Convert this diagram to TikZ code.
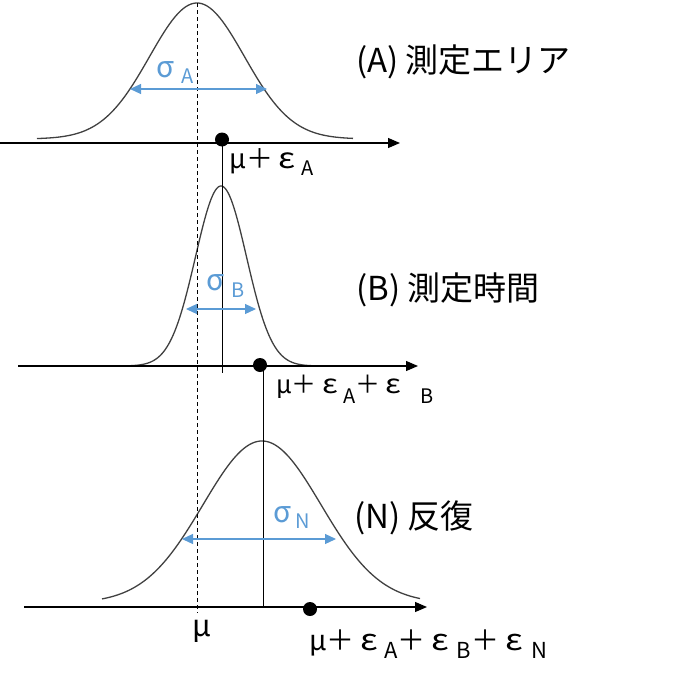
\documentclass[tikz,border=0pt]{standalone}
\usepackage{fontspec}
\setmainfont{Noto Sans CJK JP}
\usetikzlibrary{arrows.meta}
\definecolor{sigblue}{HTML}{5B9BD5}
\definecolor{curvegray}{HTML}{404040}
% raised/lowered subscript: #1 drop, #2 size, #3 text
\newcommand{\sbx}[3]{\raisebox{-#1pt}{\fontsize{#2}{#2}\selectfont #3}}
\newcommand{\feps}{\makebox[1.05em][c]{\scalebox{1.25}[1.05]{ε}}}
\newcommand{\fsig}{\makebox[0.9em][c]{\scalebox{1.05}{σ}}}
\newcommand{\fpl}{＋}
\begin{document}
\begin{tikzpicture}[x=1pt,y=-1pt,
  axis/.style={line width=1.2pt,-{Triangle[length=12pt,width=10pt]}},
  gcurve/.style={curvegray,line width=1.3pt},
  sig/.style={sigblue,line width=1.2pt,{Triangle[length=11pt,width=10pt]}-{Triangle[length=11pt,width=10pt]}},
  dotn/.style={circle,fill=black,inner sep=0pt,minimum size=14pt},
  title/.style={anchor=base west,inner sep=0pt,font=\fontsize{33}{33}\selectfont},
  lab/.style={anchor=base west,inner sep=0pt},
  siglab/.style={anchor=base west,inner sep=0pt,text=sigblue,font=\fontsize{28}{28}\selectfont},
  guide/.style={line width=1pt},
  meanline/.style={line width=1pt,dash pattern=on 4pt off 3pt}]
\useasboundingbox (0,0) rectangle (693,680);
% coordinates
\coordinate (axAs) at (0,143);   \coordinate (axAe) at (400,143);
\coordinate (axBs) at (18,366);  \coordinate (axBe) at (418,366);
\coordinate (axNs) at (24,607);  \coordinate (axNe) at (427,607);
\coordinate (muTop) at (197.5,3); \coordinate (muBot) at (197.5,613);
\coordinate (vAend) at (222,373);
\coordinate (vBs) at (263,366); \coordinate (vBend) at (263,607);
\coordinate (sAl) at (130,89); \coordinate (sAr) at (267,89);
\coordinate (sBl) at (186,309); \coordinate (sBr) at (256,309);
\coordinate (sNl) at (182,539); \coordinate (sNr) at (336,539);
% curves
\draw[gcurve] plot[domain=37:353,samples=120] (\x,{139-136*exp(-0.5*((\x-197)/47.4)^2)});
\draw[gcurve] plot[domain=63:313,samples=160] (\x,{366-180*exp(-0.5*((\x-221)/25.5)^2)});
\draw[gcurve] plot[domain=102:420,samples=120] (\x,{603-162*exp(-0.5*((\x-262)/59)^2)});
% axes
\draw[axis] (axAs) -- (axAe);
\draw[axis] (axBs) -- (axBe);
\draw[axis] (axNs) -- (axNe);
% dots
\node[dotn] (dotA) at (222,139.5) {};
\node[dotn] (dotB) at (260,365) {};
\node[dotn] (dotN) at (310,609) {};
% lines
\draw[meanline] (muTop) -- (muBot);
\draw[guide] (dotA.center) -- (vAend);
\draw[guide] (vBs) -- (vBend);
% sigma arrows
\draw[sig] (sAl) -- (sAr);
\draw[sig] (sBl) -- (sBr);
\draw[sig] (sNl) -- (sNr);
% labels
\node[title] (tA) at (356,72) {(A) 測定エリア};
\node[title] (tB) at (356,300) {(B) 測定時間};
\node[title] (tN) at (354,528) {(N) 反復};
\node[lab,font=\fontsize{27}{27}\selectfont] (lA) at (229,168)
  {μ\fpl\feps\sbx{7}{20}{A}};
\node[lab,font=\fontsize{25}{25}\selectfont] (lB) at (276,393)
  {μ\fpl\feps\sbx{10}{20}{A}\fpl\feps\kern14pt\sbx{10}{20}{B}};
\node[lab,font=\fontsize{28}{28}\selectfont] (lN) at (309,650)
  {μ\fpl\feps\sbx{8}{22}{A}\fpl\feps\kern2pt\sbx{8}{22}{B}\fpl\feps\kern3pt\sbx{8}{22}{N}};
\node[lab,font=\fontsize{30}{30}\selectfont] (mu) at (192,636) {μ};
\node[siglab] (sgA) at (153,77) {\fsig\kern3pt\sbx{6}{20}{A}};
\node[siglab] (sgB) at (203,290) {\fsig\kern3pt\sbx{7}{20}{B}};
\node[siglab] (sgN) at (270,522) {\fsig\sbx{6}{20}{N}};
\end{tikzpicture}
\end{document}
